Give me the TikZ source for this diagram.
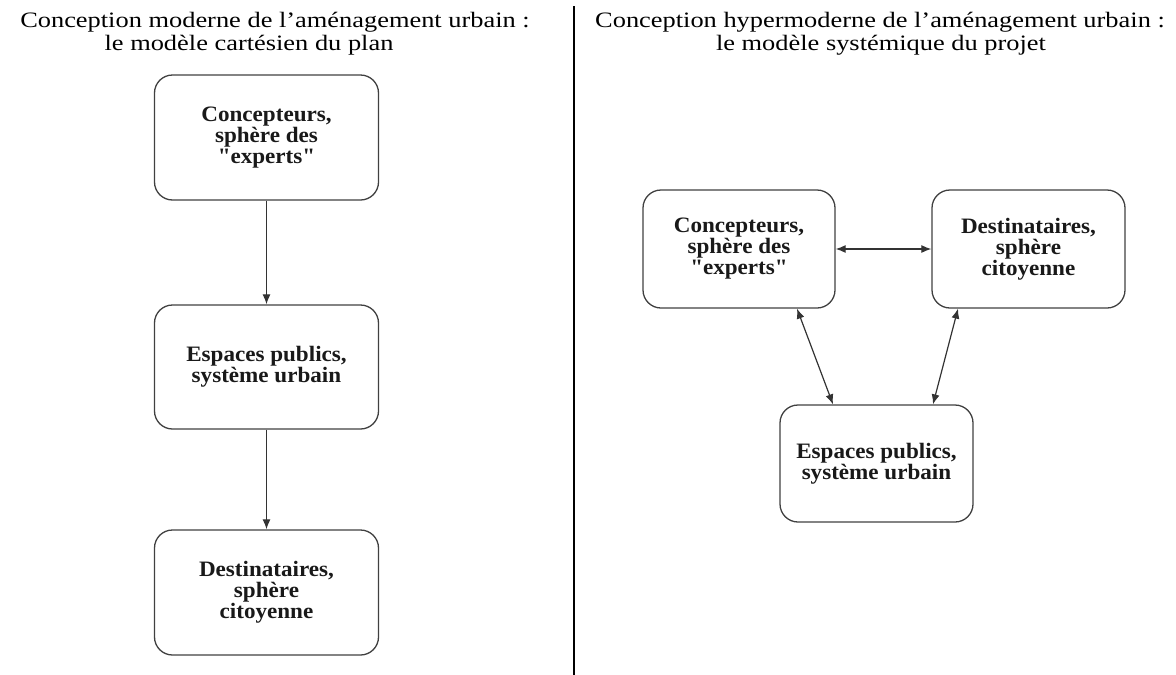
\documentclass[tikz,border=0pt]{standalone}
\usepackage{fontspec}
\setmainfont{Liberation Serif}
\newfontfamily\titrefont[FakeStretch=1.2]{Liberation Serif}
\newfontfamily\boitefont[FakeStretch=1.05,Ligatures=TeXOff]{Liberation Serif}
\usetikzlibrary{arrows.meta}
\tikzset{
    bloc/.style={draw=black!75, line width=1.3pt, rounded corners=18pt, align=center,
        font=\boitefont\fontsize{22}{21}\selectfont\bfseries, text=black!90},
    titre/.style={font=\titrefont\fontsize{22}{22}\selectfont, inner sep=0pt},
    fleche/.style={draw=black!80, line width=1.2pt, -{Latex[length=10pt,width=8pt]}},
    dfleche/.style={draw=black!80, line width=1.2pt, {Latex[length=10pt,width=8pt]}-{Latex[length=10pt,width=8pt]}}
}
\begin{document}
\begin{tikzpicture}[x=1pt,y=-1pt]
    \useasboundingbox (0,0) rectangle (1176,675);
    % titres
    \node[titre] (t1) at (275,22) {Conception moderne de l’aménagement urbain :};
    \node[titre] (t2) at (249,45) {le modèle cartésien du plan};
    \node[titre] (t3) at (880,22) {Conception hypermoderne de l’aménagement urbain :};
    \node[titre] (t4) at (881,45) {le modèle systémique du projet};
    % separation
    \coordinate (s1) at (574,6);
    \coordinate (s2) at (574,675);
    \draw[line width=2pt] (s1) -- (s2);
    % modele cartesien
    \node[bloc, minimum width=224pt, minimum height=125pt] (conc1) at (266.5,137.5) {Concepteurs,\\sphère des\\"experts"};
    \node[bloc, minimum width=224pt, minimum height=124pt] (esp1) at (266.5,367) {Espaces publics,\\système urbain};
    \node[bloc, minimum width=224pt, minimum height=125pt] (dest1) at (266.5,592.5) {Destinataires,\\sphère\\citoyenne};
    \draw[fleche] (conc1) -- (esp1);
    \draw[fleche] (esp1) -- (dest1);
    % modele systemique
    \node[bloc, minimum width=192pt, minimum height=118pt] (conc2) at (739,249) {Concepteurs,\\sphère des\\"experts"};
    \node[bloc, minimum width=193pt, minimum height=118pt] (dest2) at (1028.5,249) {Destinataires,\\sphère\\citoyenne};
    \node[bloc, minimum width=193pt, minimum height=117pt] (esp2) at (876.5,463.5) {Espaces publics,\\système urbain};
    \draw[dfleche] (conc2) -- (dest2);
    \draw[dfleche] ([xshift=58pt]conc2.south) -- ([xshift=-43.5pt]esp2.north);
    \draw[dfleche] ([xshift=-70.5pt]dest2.south) -- ([xshift=56.5pt]esp2.north);
\end{tikzpicture}
\end{document}
